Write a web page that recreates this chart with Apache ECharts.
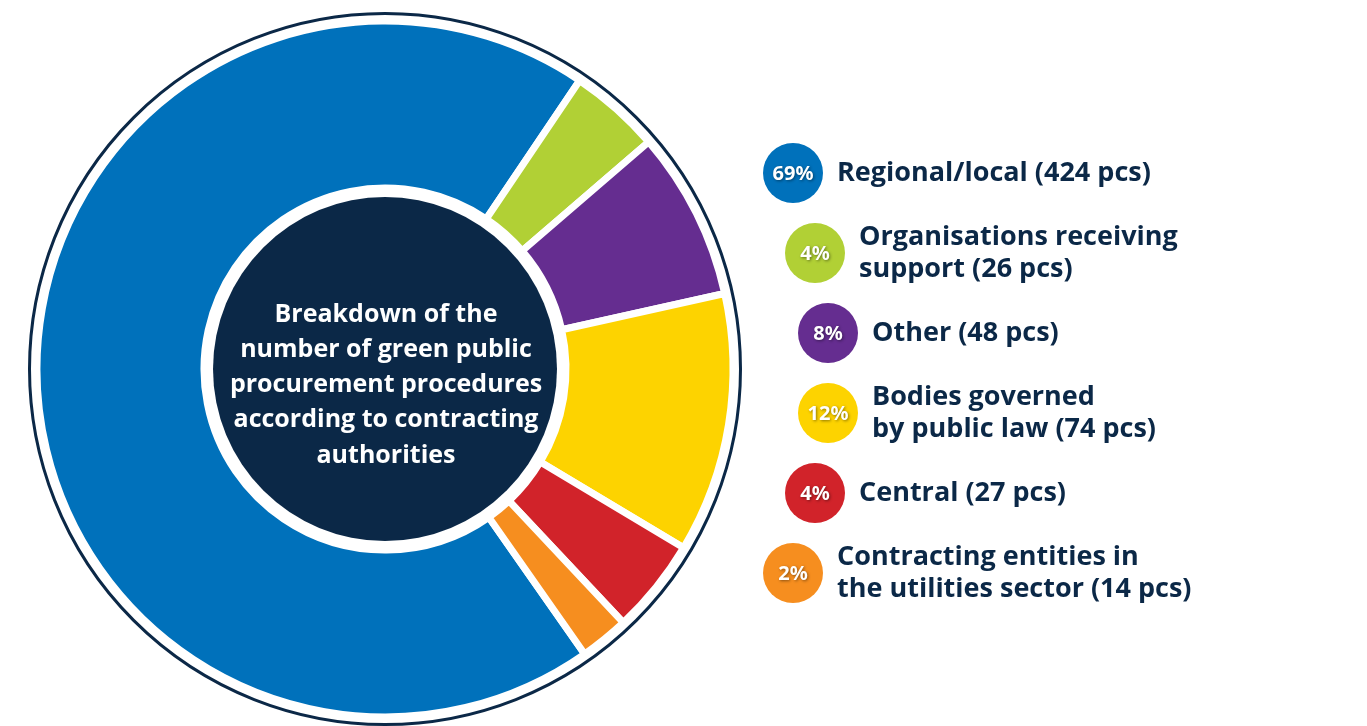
<!DOCTYPE html>
<html>
<head>
<meta charset="utf-8">
<script src="https://cdn.jsdelivr.net/npm/echarts@6/dist/echarts.min.js"></script>
<style>
html,body{margin:0;padding:0;background:#fff;}
#chart{width:1367px;height:726px;}
</style>
</head>
<body>
<div id="chart"></div>
<script>
// Data
const categories = [
  'Regional/local',
  'Organisations receiving\nsupport',
  'Other',
  'Bodies governed\nby public law',
  'Central',
  'Contracting entities in\nthe utilities sector'
];
const counts = [424, 26, 48, 74, 27, 14];
const colors = ['#0071bb', '#b1d035', '#652d90', '#fdd300', '#d1232a', '#f68e1f'];
const centerTitle = 'Breakdown of the\nnumber of green public\nprocurement procedures\naccording to contracting\nauthorities';

// Layout
const NAVY = '#0b2847';
const CX = 385, CY = 369;
const legendX = [793, 815, 828, 828, 815, 793];
const legendY0 = 173, legendStep = 80;

const total = counts.reduce((a, b) => a + b, 0);
const pieData = categories.map((c, i) => ({
  name: c.replace('\n', ' '),
  value: counts[i],
  itemStyle: { color: colors[i] }
}));

const graphics = [
  { type: 'circle', shape: { cx: CX, cy: CY, r: 355.5 }, style: { fill: 'none', stroke: NAVY, lineWidth: 3 }, silent: true },
  { type: 'circle', shape: { cx: CX, cy: CY, r: 172 }, style: { fill: NAVY }, silent: true },
  { type: 'text', x: CX + 1, y: CY + 16, silent: true,
    style: { text: centerTitle, fill: '#ffffff', font: 'bold 25px "Open Sans"', lineHeight: 35.3, align: 'center', verticalAlign: 'middle' } }
];

categories.forEach((c, i) => {
  const cx = legendX[i], cy = legendY0 + i * legendStep;
  const pct = Math.round(counts[i] / total * 100) + '%';
  graphics.push({ type: 'circle', shape: { cx: cx, cy: cy, r: 30 }, style: { fill: colors[i] }, silent: true });
  graphics.push({ type: 'text', x: cx, y: cy + 1, silent: true,
    style: { text: pct, fill: '#ffffff', font: 'bold 20px "Noto Sans"', align: 'center', verticalAlign: 'middle',
      textShadowColor: 'rgba(0,0,0,0.45)', textShadowBlur: 3, textShadowOffsetX: 1, textShadowOffsetY: 1 } });
  graphics.push({ type: 'text', x: cx + 44, y: cy, silent: true,
    style: { text: c + ' (' + counts[i] + ' pcs)', fill: NAVY, font: 'bold 27px "Open Sans"', lineHeight: 32, align: 'left', verticalAlign: 'middle' } });
});

const chart = echarts.init(document.getElementById('chart'), null, { renderer: 'canvas' });
chart.setOption({
  animation: false,
  backgroundColor: '#ffffff',
  series: [{
    type: 'pie',
    center: [CX, CY],
    radius: [181, 348],
    startAngle: -55,
    clockwise: true,
    silent: true,
    label: { show: false },
    labelLine: { show: false },
    itemStyle: { borderColor: '#ffffff', borderWidth: 7 },
    emphasis: { disabled: true },
    data: pieData
  }],
  graphic: graphics
});
</script>
</body>
</html>
